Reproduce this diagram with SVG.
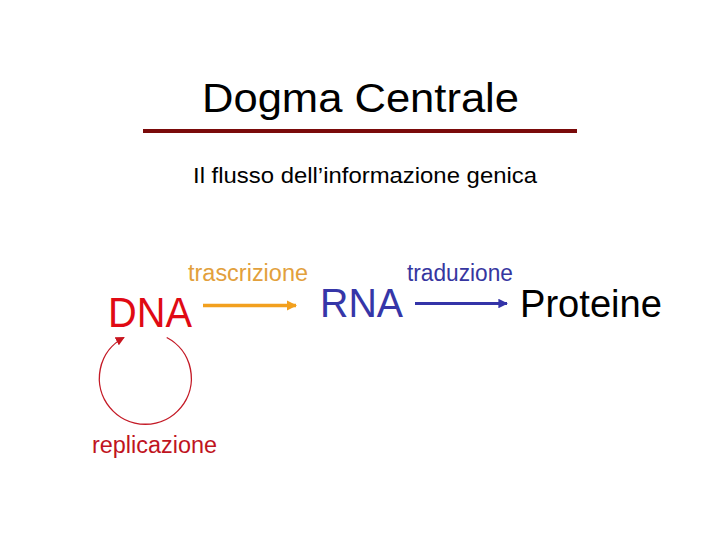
<svg xmlns="http://www.w3.org/2000/svg" width="720" height="540" viewBox="0 0 720 540">
<style>
text{font-family:"Liberation Sans",Arial,sans-serif}
.lbl{font-size:23px}
</style>
<defs>
<marker id="aOr" viewBox="0 0 10 10" refX="9" refY="5" markerWidth="3" markerHeight="3" orient="auto" markerUnits="strokeWidth"><path d="M0,0 L10,5 L0,10 z" fill="#f2a01e"/></marker>
<marker id="aBl" viewBox="0 0 10 10" refX="9" refY="5" markerWidth="3.2" markerHeight="3.2" orient="auto" markerUnits="strokeWidth"><path d="M0,0 L10,5 L0,10 z" fill="#3434a8"/></marker>
<marker id="aRd" viewBox="0 0 10 10" refX="9" refY="5" markerWidth="6.5" markerHeight="6.5" orient="auto" markerUnits="strokeWidth"><path d="M0,0 L10,5 L0,10 z" fill="#c8141e"/></marker>
</defs>
<rect width="720" height="540" fill="#ffffff"/>
<g id="title">
<text x="202" y="112" font-size="40" textLength="317" lengthAdjust="spacingAndGlyphs" fill="#000">Dogma Centrale</text>
<line x1="143" y1="131" x2="577" y2="131" stroke="#7a0a0a" stroke-width="4"/>
</g>
<g id="subtitle">
<text x="193" y="183" font-size="22.5" textLength="344" lengthAdjust="spacingAndGlyphs" fill="#000">Il flusso dell’informazione genica</text>
</g>
<g id="dna"><text x="108" y="327" font-size="42" textLength="84" lengthAdjust="spacingAndGlyphs" fill="#e00a14">DNA</text></g>
<g id="rna"><text x="320" y="317" font-size="40" textLength="83" lengthAdjust="spacingAndGlyphs" fill="#3636a8">RNA</text></g>
<g id="proteine"><text x="520" y="317" font-size="38" textLength="142" lengthAdjust="spacingAndGlyphs" fill="#000">Proteine</text></g>
<g id="connectors">
<line x1="203" y1="305.5" x2="296" y2="305.5" stroke="#f2a01e" stroke-width="3.5" marker-end="url(#aOr)"/>
<text class="lbl" x="188" y="281" textLength="120" lengthAdjust="spacingAndGlyphs" fill="#e2a03c">trascrizione</text>
<line x1="415" y1="303.5" x2="507" y2="303.5" stroke="#3434a8" stroke-width="3" marker-end="url(#aBl)"/>
<text class="lbl" x="407" y="281" textLength="106" lengthAdjust="spacingAndGlyphs" fill="#3636a0">traduzione</text>
<path d="M166.7,337.5 A46,46 0 1 1 124,337.5" fill="none" stroke="#c41a26" stroke-width="1.4" marker-end="url(#aRd)"/>
<text class="lbl" x="92" y="453" textLength="125" lengthAdjust="spacingAndGlyphs" fill="#c0141e">replicazione</text>
</g>
</svg>
